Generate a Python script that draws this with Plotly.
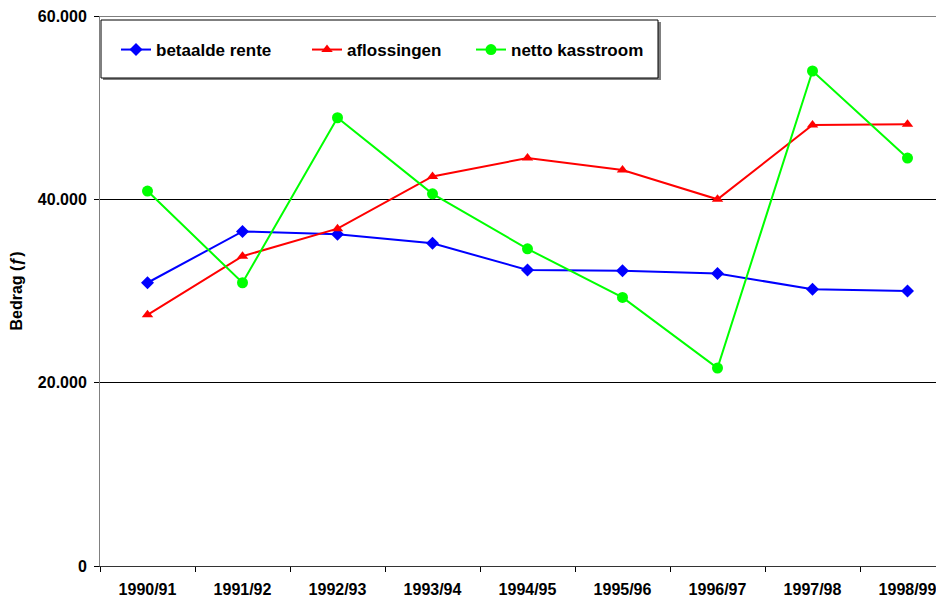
import plotly.graph_objects as go

categories = ["1990/91", "1991/92", "1992/93", "1993/94", "1994/95",
              "1995/96", "1996/97", "1997/98", "1998/99"]
betaalde_rente = [30900, 36500, 36200, 35200, 32300, 32200, 31900, 30200, 30000]
aflossingen = [27400, 33800, 36800, 42500, 44500, 43200, 40000, 48100, 48200]
netto_kasstroom = [40900, 30900, 48900, 40600, 34600, 29300, 21600, 54000, 44500]

y_tickvals = [0, 20000, 40000, 60000]
y_ticktext = ["0", "20.000", "40.000", "60.000"]

FONT = "Liberation Sans, Arial, sans-serif"
FS = 16

fig = go.Figure()
fig.add_trace(go.Scatter(
    x=categories, y=betaalde_rente, name="betaalde rente", mode="lines+markers",
    line=dict(color="#0000FF", width=2), marker=dict(symbol="diamond", size=10, color="#0000FF"),
    legend="legend", showlegend=True))
fig.add_trace(go.Scatter(
    x=categories, y=aflossingen, name="aflossingen", mode="lines+markers",
    line=dict(color="#FF0000", width=2), marker=dict(symbol="triangle-up", size=10, color="#FF0000"),
    legend="legend2", showlegend=True))
fig.add_trace(go.Scatter(
    x=categories, y=netto_kasstroom, name="netto kasstroom", mode="lines+markers",
    line=dict(color="#00FF00", width=2), marker=dict(symbol="circle", size=11, color="#00FF00"),
    legend="legend3", showlegend=True))

# page places the figure at (8, 8)
OFF = 8
PL, PT, PR, PB = 100, 16, 944, 566  # plot area in window pixels
W, H = PR - OFF, 600 - OFF
pw = PR - PL
ph = PB - PT

def px(x):
    return (x - PL) / pw

def py(y):
    return (PB - y) / ph

leg_common = dict(orientation="h", bgcolor="rgba(0,0,0,0)", borderwidth=0,
                  font=dict(family=FONT, size=17, color="black", weight="bold"),
                  yanchor="middle", xanchor="left", y=py(50))

fig.update_layout(
    width=W, height=H,
    margin=dict(l=PL - OFF, r=0, t=PT - OFF, b=H + OFF - PB),
    paper_bgcolor="white", plot_bgcolor="white",
    showlegend=True,
    font=dict(family=FONT, size=FS, color="black", weight="bold"),
    legend=dict(**leg_common, x=px(116)),
    legend2=dict(**leg_common, x=px(307)),
    legend3=dict(**leg_common, x=px(471)),
    shapes=[
        dict(type="line", xref="paper", yref="y",
             x0=0, x1=1, y0=y_tickvals[-1], y1=y_tickvals[-1],
             line=dict(color="black", width=1), layer="below"),
        dict(type="rect", xref="paper", yref="paper",
             x0=px(103), x1=px(661), y0=py(22), y1=py(80),
             fillcolor="#808080", line=dict(width=0), layer="above"),
        dict(type="rect", xref="paper", yref="paper",
             x0=px(101), x1=px(658), y0=py(20), y1=py(78),
             fillcolor="white", line=dict(color="black", width=1), layer="above"),
    ],
)

fig.update_xaxes(
    type="category", range=[-0.5, pw / 95 - 0.5],
    tickson="boundaries", ticks="outside", ticklen=5, tickcolor="black",
    showline=True, linecolor="#333333", linewidth=1, showgrid=False,
    tickfont=dict(family=FONT, size=FS, color="black", weight="bold"),
    ticklabelstandoff=9,
)
fig.update_yaxes(
    range=[0, 60000], tickvals=y_tickvals, ticktext=y_ticktext,
    ticks="outside", ticklen=5, tickcolor="black",
    showline=True, linecolor="#808080", linewidth=1,
    showgrid=True, gridcolor="black", gridwidth=1, zeroline=False,
    tickfont=dict(family=FONT, size=FS, color="black", weight="bold"),
    ticklabelstandoff=4, ticklabeloverflow="allow",
    title=dict(text="Bedrag (ƒ)", font=dict(family=FONT, size=16, color="black", weight="bold"), standoff=12),
    automargin=False,
)

fig.write_html("out.html")
